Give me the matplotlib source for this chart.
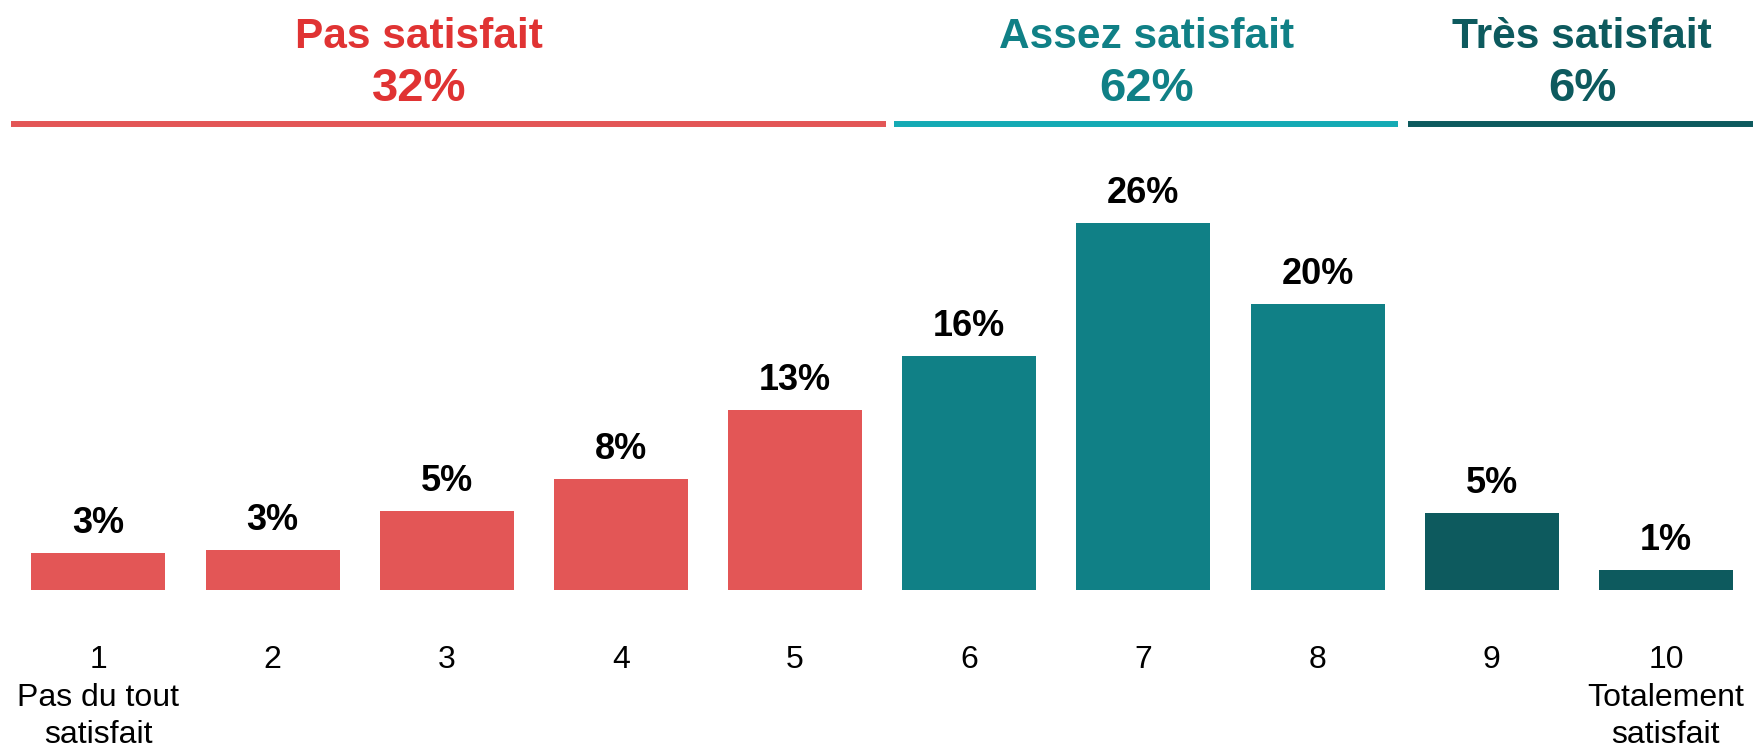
import matplotlib.pyplot as plt

# scores 1..10
scores = ['1\nPas du tout\nsatisfait', '2', '3', '4', '5', '6', '7', '8', '9',
          '10\nTotalement\nsatisfait']
values = [2.6, 2.8, 5.6, 7.85, 12.75, 16.6, 26.0, 20.25, 5.45, 1.4]
value_labels = ['3%', '3%', '5%', '8%', '13%', '16%', '26%', '20%', '5%', '1%']

groups = ['Pas satisfait', 'Assez satisfait', 'Très satisfait']
group_totals = ['32%', '62%', '6%']
group_sizes = [5, 3, 2]

bar_colors = ['#E35656', '#108086', '#0D5A5E']
text_colors = ['#E03333', '#108086', '#0D5A5E']
line_colors = ['#E35656', '#14AAB4', '#0D5A5E']

plt.rcParams['font.family'] = ['Liberation Sans', 'DejaVu Sans']

W, H = 1753, 748
base_px = 158.3  # baseline from the bottom, pixels
px_per_unit = 14.1

fig = plt.figure(figsize=(W / 100, H / 100), dpi=100)
ax = fig.add_axes([0, base_px / H, 1, 1 - base_px / H])
ax.set_xlim(-0.565, 9.5)
ax.set_ylim(0, (H - base_px) / px_per_unit)

colors = []
for c, n in zip(bar_colors, group_sizes):
    colors += [c] * n
x = list(range(len(values)))
ax.bar(x, values, width=0.77, color=colors)

for xi, v, lab in zip(x, values, value_labels):
    ax.text(xi, v + 20 / px_per_unit, lab, ha='center', va='baseline',
            fontsize=26, fontweight='bold', color='black')

ax.set_xticks(x)
ax.set_xticklabels(scores, fontsize=23, color='black', linespacing=1.32)
ax.tick_params(axis='x', length=0, pad=40)
ax.tick_params(axis='y', left=False, labelleft=False)
for s in ax.spines.values():
    s.set_visible(False)

# group headers
line_y = (589.7 - 123.7) / px_per_unit
spans = [(-0.5, 4.52), (4.57, 7.46), (7.52, 9.5)]
title_x = [1.84, 6.02, 8.52]
for (a, b), lc, tc, tx, g, t in zip(spans, line_colors, text_colors,
                                     title_x, groups, group_totals):
    ax.plot([a, b], [line_y, line_y], color=lc, lw=4.3,
            solid_capstyle='butt', clip_on=False)
    ax.text(tx, (589.7 - 37) / px_per_unit, g, ha='center', va='center',
            fontsize=30.5, fontweight='bold', color=tc)
    ax.text(tx, (589.7 - 89.5) / px_per_unit, t, ha='center', va='center',
            fontsize=34, fontweight='bold', color=tc)

fig.savefig('out.png', dpi=100)
